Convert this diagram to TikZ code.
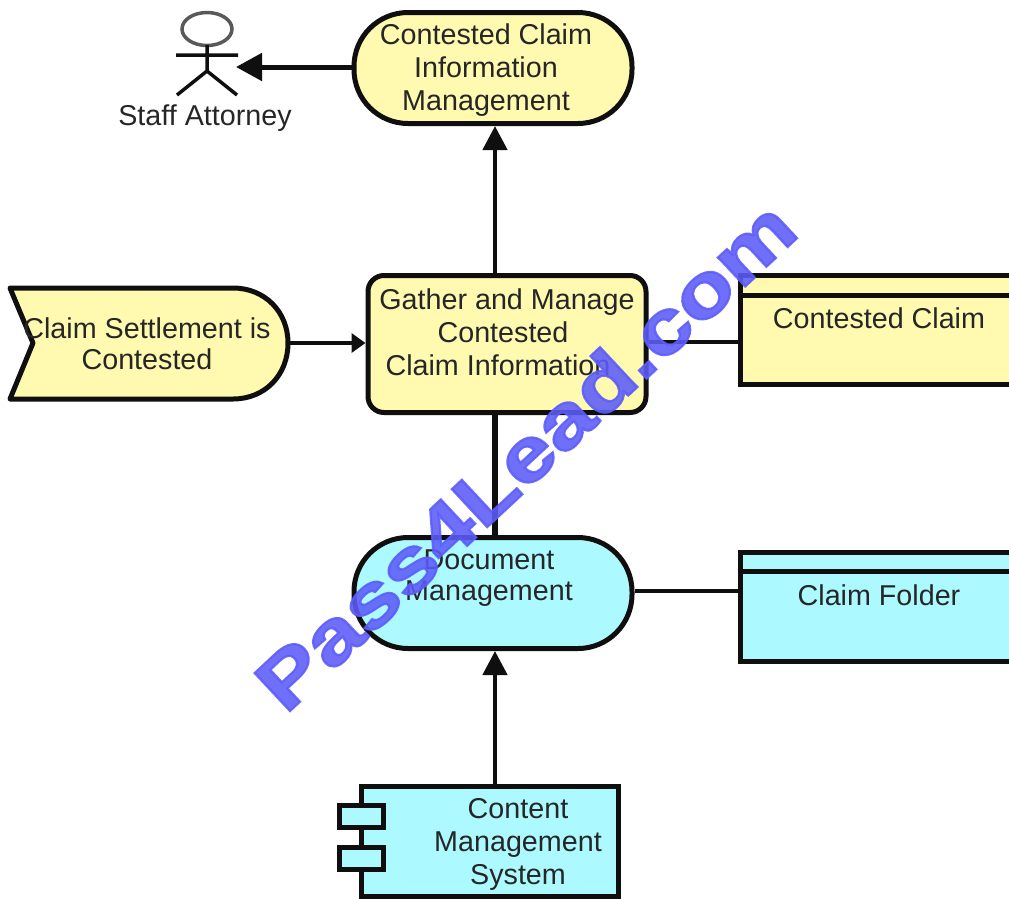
\documentclass[tikz,border=0pt]{standalone}
\usepackage{fontspec}
\setmainfont{Liberation Sans}
\newfontfamily\markfont[FakeBold=2.6]{Liberation Sans Bold}
\usetikzlibrary{arrows.meta, shapes.geometric}
\definecolor{bizyellow}{RGB}{255,250,175}
\definecolor{appcyan}{RGB}{172,250,255}
\definecolor{inkline}{RGB}{15,15,15}
\definecolor{inktext}{RGB}{38,38,38}
\definecolor{markblue}{RGB}{92,92,250}
\begin{document}
\begin{tikzpicture}[x=1pt, y=-1pt,
    shapeline/.style={draw=inkline, line width=5pt},
    pill/.style={shapeline, rectangle, rounded corners=54pt, minimum width=278pt, minimum height=111pt},
    task/.style={shapeline, rectangle, rounded corners=16pt, minimum width=278pt, minimum height=137pt},
    store/.style={shapeline, rectangle, minimum width=300pt, minimum height=109pt},
    comp/.style={shapeline, rectangle, minimum width=257pt, minimum height=110pt},
    tab/.style={shapeline, rectangle, fill=appcyan, minimum width=44pt, minimum height=22pt},
    lbl/.style={inner sep=0pt, align=center, text=inktext, font=\fontsize{28.7}{33}\selectfont},
    link/.style={draw=inkline, line width=4.5pt},
    flow/.style={link, -{Triangle[length=24pt, width=24pt]}}]
    \clip (0,0) rectangle (1009,898);
    \fill[white] (0,0) rectangle (1009,898);

    % Vertical axis of the connectors
    \coordinate (axis) at (495,0);

    % Actor
    \node[draw=black!65, line width=3.5pt, ellipse, minimum width=50pt, minimum height=33pt, inner sep=0pt] (head) at (207,29) {};
    \coordinate (neck) at (207,45);
    \coordinate (hip) at (207,71);
    \coordinate (hand) at (236,67);
    \draw[line width=3.5pt, draw=inkline] (neck) -- (hip) (176,55) -- (238,55) (177,95) -- (hip) -- (237,95);
    \node[lbl] (actor) at (205,118) {Staff Attorney};

    % Application services
    \node[pill, fill=bizyellow] (info) at (493,68) {};
    \node[lbl] at (486,70) {Contested Claim\\Information\\Management};
    \node[pill, fill=appcyan] (docs) at (493,593) {};
    \node[lbl, font=\fontsize{28.7}{31}\selectfont] at (489,578) {Document\\Management};

    % Triggering event
    \coordinate (settle) at (288,343);
    \draw[shapeline, fill=bizyellow, line join=round] (10,288) -- (233,288)
        .. controls (265,288) and (288,312) .. (settle)
        .. controls (288,375) and (265,399) .. (233,399) -- (10,399) -- (33,343) -- cycle;
    \node[lbl, font=\fontsize{28.7}{31}\selectfont] at (147,344) {Claim Settlement is\\Contested};

    % Process
    \node[task, fill=bizyellow] (gather) at (507,344) {};
    \node[lbl] at (507,332) {Gather and Manage\\Contested\hspace{8pt}\mbox{}\\Claim Information\hspace{18pt}\mbox{}};

    % Data objects
    \foreach \name/\y/\ry/\col/\txt in {claim/330/295/bizyellow/Contested Claim, folder/607/571/appcyan/Claim Folder} {
        \node[store, fill=\col] (\name) at (890,\y) {};
        \draw[shapeline] (\name.west |- 0,\ry) -- (\name.east |- 0,\ry);
        \node[lbl] at (879,\y-12) {\txt};
    }

    % Component
    \node[comp, fill=appcyan] (cms) at (489.5,841) {};
    \foreach \j/\y in {1/816,2/858} {
        \node[tab] (tab\j) at (361,\y) {};
    }
    \node[lbl] at (518,844) {Content\\Management\\System};

    % Connectors
    \draw[link, line width=5pt, -{Triangle[length=26pt, width=27pt]}] (info.west |- hand) -- (hand);
    \draw[flow] (axis |- gather.north) -- (axis |- info.south);
    \draw[link, -{Triangle[length=14pt, width=19pt]}] (settle) -- (gather.west |- settle);
    \draw[link] (gather.east |- 0,342) -- (claim.west |- 0,342);
    \draw[link, line width=5.5pt] (axis |- gather.south) -- (axis |- docs.north);
    \draw[link] (docs.east |- 0,591) -- (folder.west |- 0,591);
    \draw[flow] (axis |- cms.north) -- (axis |- docs.south);

    % Watermark
    \node[rotate=43, xscale=1.06, yscale=0.86, inner sep=0pt, text=markblue, text opacity=0.88, font=\markfont\fontsize{88}{88}\selectfont] (mark) at (525,455) {Pass4Lead.com};
\end{tikzpicture}
\end{document}
